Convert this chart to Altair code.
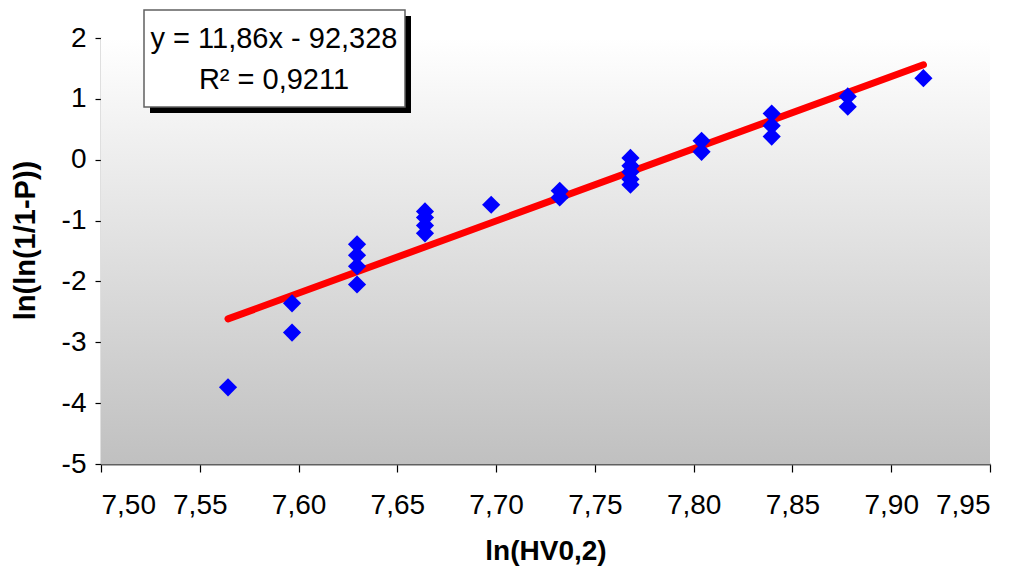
import altair as alt
import pandas as pd

# Data
x_vals = [7.5643,
          7.5967, 7.5967,
          7.6296, 7.6296, 7.6296, 7.6296,
          7.6640, 7.6640, 7.6640, 7.6640,
          7.6975,
          7.7322, 7.7322,
          7.7680, 7.7680, 7.7680, 7.7680, 7.7680,
          7.8040, 7.8040,
          7.8395, 7.8395, 7.8395,
          7.8780, 7.8780,
          7.9163]
y_vals = [-3.74,
          -2.36, -2.84,
          -1.39, -1.57, -1.75, -2.05,
          -0.85, -0.95, -1.08, -1.21,
          -0.74,
          -0.51, -0.62,
          0.03, -0.10, -0.20, -0.32, -0.41,
          0.31, 0.13,
          0.76, 0.56, 0.38,
          1.04, 0.87,
          1.34]

slope = 11.86
intercept = -92.328
line_x = [min(x_vals), max(x_vals)]
line_y = [slope * v + intercept for v in line_x]

x_ticks = [7.50, 7.55, 7.60, 7.65, 7.70, 7.75, 7.80, 7.85, 7.90, 7.95]
y_ticks = [-5, -4, -3, -2, -1, 0, 1, 2]

eq_line1 = "y = 11,86x - 92,328"
eq_line2 = "R² = 0,9211"

W, H = 889, 426
FONT = "Liberation Sans"

pts = pd.DataFrame({"x": x_vals, "y": y_vals})
trend = pd.DataFrame({"x": line_x, "y": line_y})
one = pd.DataFrame({"a": [0]})

xscale = alt.Scale(domain=[7.5, 7.95], nice=False, zero=False)
yscale = alt.Scale(domain=[-5, 2], nice=False, zero=False)

bg = alt.Chart(one).mark_rect(
    fill=alt.LinearGradient(
        gradient="linear",
        stops=[alt.GradientStop(color="#ffffff", offset=0),
               alt.GradientStop(color="#c0c0c0", offset=1)],
        x1=0, x2=0, y1=0, y2=1),
    strokeWidth=0,
).encode(x=alt.value(0), x2=alt.value(W), y=alt.value(0), y2=alt.value(H))

points = alt.Chart(pts).mark_point(
    shape="diamond", filled=True, color="#0000ff", size=330, opacity=1
).encode(
    x=alt.X("x:Q", scale=xscale,
            axis=alt.Axis(values=x_ticks, title="ln(HV0,2)",
                          labelExpr="replace(format(datum.value, '.2f'), '.', ',')",
                          grid=False, domainColor="#606060", domainWidth=2,
                          tickColor="#000000", tickSize=8, tickWidth=1.2,
                          labelFontSize=28, labelFont=FONT, labelColor="#000000",
                          labelPadding=19, titleFont=FONT, titleFontSize=28,
                          titleFontWeight="bold", titleColor="#000000",
                          titleBaseline="middle", titleY=87, titleX=444.5,
                          titleAlign="center")),
    y=alt.Y("y:Q", scale=yscale,
            axis=alt.Axis(values=y_ticks, title="ln(ln(1/1-P))",
                          labelExpr="'' + datum.value",
                          grid=False, domainColor="#808080", domainWidth=1.5,
                          tickColor="#000000", tickSize=6, tickWidth=1.2,
                          labelFontSize=28, labelFont=FONT, labelColor="#000000",
                          labelPadding=9, titleFont=FONT, titleFontSize=29,
                          titleFontWeight="bold", titleColor="#000000",
                          titleAngle=270, titleBaseline="middle", titleAlign="center",
                          titleX=-76, titleY=202)),
)

line = alt.Chart(trend).mark_line(
    color="#ff0000", strokeWidth=7, strokeCap="round"
).encode(x=alt.X("x:Q", scale=xscale), y=alt.Y("y:Q", scale=yscale))

shadow = alt.Chart(one).mark_rect(fill="#000000").encode(
    x=alt.value(49), x2=alt.value(310), y=alt.value(-22), y2=alt.value(75))
box = alt.Chart(one).mark_rect(fill="#ffffff", stroke="#606060", strokeWidth=1.5).encode(
    x=alt.value(43), x2=alt.value(304), y=alt.value(-28), y2=alt.value(69))
t1 = alt.Chart(one).mark_text(
    text=eq_line1, font=FONT, fontSize=29, color="#000000", align="center", baseline="middle"
).encode(x=alt.value(173), y=alt.value(1))
t2 = alt.Chart(one).mark_text(
    text=eq_line2, font=FONT, fontSize=29, color="#000000", align="center", baseline="middle"
).encode(x=alt.value(173), y=alt.value(42))

chart = alt.layer(bg, line, points, shadow, box, t1, t2).properties(
    width=W, height=H,
    autosize=alt.AutoSizeParams(type="none"),
    padding={"left": 93, "top": 30, "right": 25, "bottom": 102},
).configure_view(stroke=None)

chart.save("out.html", embed_options={"renderer": "svg", "actions": False})
